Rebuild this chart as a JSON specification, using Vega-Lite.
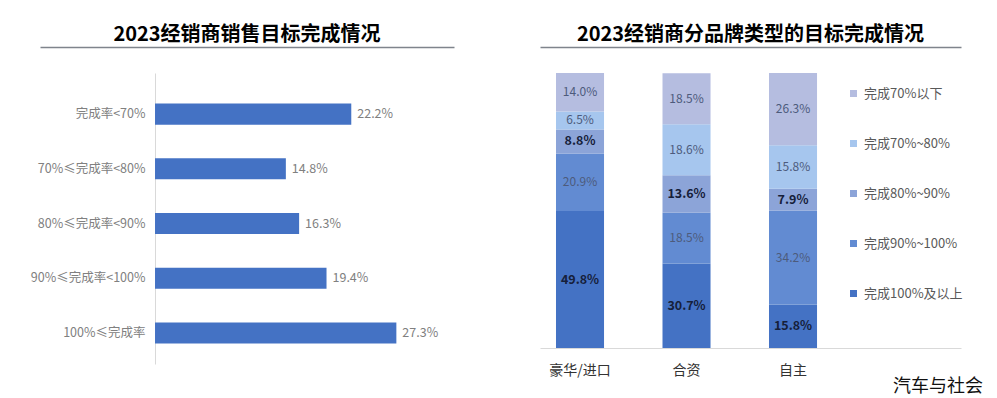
{
  "$schema": "https://vega.github.io/schema/vega-lite/v6.json",
  "padding": {"left": 30, "top": 25, "right": 10, "bottom": 2},
  "background": "white",
  "config": {
    "view": {"stroke": null},
    "font": "Noto Sans CJK SC",
    "title": {"font": "Noto Sans CJK SC"},
    "axis": {"labelFont": "Noto Sans CJK SC", "grid": false},
    "legend": {"labelFont": "Noto Sans CJK SC"}
  },
  "title": {"text": "汽车与社会", "orient": "bottom", "anchor": "end", "fontSize": 18, "fontWeight": "normal", "color": "#111111", "dx": 20, "offset": 1},
  "spacing": 86,
  "hconcat": [
    {
      "width": 414,
      "height": 291,
      "title": {"text": "2023经销商销售目标完成情况", "fontSize": 20, "fontWeight": "bold", "color": "#000000", "anchor": "middle", "offset": 2},
      "data": {"values": [
        {"cat": "完成率<70%", "v": 0.222},
        {"cat": "70%≤完成率<80%", "v": 0.148},
        {"cat": "80%≤完成率<90%", "v": 0.163},
        {"cat": "90%≤完成率<100%", "v": 0.194},
        {"cat": "100%≤完成率", "v": 0.273}
      ]},
      "encoding": {
        "y": {"field": "cat", "type": "nominal", "sort": null,
              "scale": {"paddingInner": 0.616, "paddingOuter": 0.466, "align": 0.6},
              "axis": {"title": null, "offset": -115, "ticks": false, "labelPadding": 10, "labelFontSize": 12.5, "labelColor": "#808080", "domainColor": "#d9d9d9", "labelLimit": 200}},
        "x": {"field": "v", "type": "quantitative",
              "scale": {"domain": [-0.1301, 0.3382], "nice": false},
              "axis": {"orient": "top", "offset": 26, "labels": false, "ticks": false, "title": null, "domainColor": "#7f848c", "domainWidth": 1.5}}
      },
      "layer": [
        {"mark": {"type": "bar", "color": "#4472C4"}},
        {"mark": {"type": "text", "align": "left", "dx": 6, "fontSize": 12.5, "color": "#808080"},
         "encoding": {"text": {"field": "v", "type": "quantitative", "format": ".1%"}}}
      ]
    },
    {
      "width": 421,
      "height": 275,
      "title": {"text": "2023经销商分品牌类型的目标完成情况", "fontSize": 20, "fontWeight": "bold", "color": "#000000", "anchor": "middle", "offset": 2},
      "data": {"values": [
        {"brand": "豪华/进口", "level": "完成100%及以上", "rank": 1, "v": 0.498},
        {"brand": "豪华/进口", "level": "完成90%~100%", "rank": 2, "v": 0.209},
        {"brand": "豪华/进口", "level": "完成80%~90%", "rank": 3, "v": 0.088},
        {"brand": "豪华/进口", "level": "完成70%~80%", "rank": 4, "v": 0.065},
        {"brand": "豪华/进口", "level": "完成70%以下", "rank": 5, "v": 0.140},
        {"brand": "合资", "level": "完成100%及以上", "rank": 1, "v": 0.307},
        {"brand": "合资", "level": "完成90%~100%", "rank": 2, "v": 0.185},
        {"brand": "合资", "level": "完成80%~90%", "rank": 3, "v": 0.136},
        {"brand": "合资", "level": "完成70%~80%", "rank": 4, "v": 0.186},
        {"brand": "合资", "level": "完成70%以下", "rank": 5, "v": 0.185},
        {"brand": "自主", "level": "完成100%及以上", "rank": 1, "v": 0.158},
        {"brand": "自主", "level": "完成90%~100%", "rank": 2, "v": 0.342},
        {"brand": "自主", "level": "完成80%~90%", "rank": 3, "v": 0.079},
        {"brand": "自主", "level": "完成70%~80%", "rank": 4, "v": 0.158},
        {"brand": "自主", "level": "完成70%以下", "rank": 5, "v": 0.263}
      ]},
      "encoding": {
        "y": {"field": "v", "type": "quantitative", "stack": "zero", "scale": {"domain": [0, 1], "nice": false}, "axis": null},
        "order": {"field": "rank", "type": "quantitative"}
      },
      "layer": [
        {
          "mark": {"type": "bar"},
          "encoding": {
            "x": {"field": "brand", "type": "nominal", "sort": null,
                  "scale": {"paddingInner": 0.549, "paddingOuter": 0.751, "align": 0.1},
                  "axis": {"orient": "bottom", "title": null, "ticks": false, "labelAngle": 0, "labelPadding": 15, "labelFontSize": 14, "labelColor": "#333333", "domainColor": "#d9d9d9"}},
            "color": {"field": "level", "type": "nominal",
                      "scale": {"domain": ["完成70%以下", "完成70%~80%", "完成80%~90%", "完成90%~100%", "完成100%及以上"],
                                "range": ["#B5BDE0", "#A6C6EE", "#8CA4D8", "#628BD2", "#4472C4"]},
                      "legend": {"orient": "none", "legendX": 807, "legendY": 14, "title": null, "symbolType": "square", "symbolSize": 49, "symbolStrokeWidth": 0, "labelFontSize": 13, "labelColor": "#595959", "rowPadding": 36, "labelOffset": 4}}
          }
        },
        {
          "mark": {"type": "text", "fontSize": 12, "color": "#4d5b7c"},
          "encoding": {
            "x": {"field": "brand", "type": "nominal", "sort": null,
                  "axis": {"orient": "top", "offset": 26, "labels": false, "ticks": false, "title": null, "domainColor": "#7f848c", "domainWidth": 1.5}},
            "y": {"field": "v", "type": "quantitative", "stack": "zero", "bandPosition": 0.5},
            "detail": {"field": "level"},
            "text": {"condition": {"test": "datum.level !== '完成100%及以上' && datum.level !== '完成80%~90%'", "field": "v", "type": "quantitative", "format": ".1%"}, "value": ""}
          }
        },
        {
          "mark": {"type": "text", "fontSize": 12.5, "fontWeight": "bold", "color": "#16203a"},
          "encoding": {
            "x": {"field": "brand", "type": "nominal", "sort": null, "axis": null},
            "y": {"field": "v", "type": "quantitative", "stack": "zero", "bandPosition": 0.5},
            "detail": {"field": "level"},
            "text": {"condition": {"test": "datum.level === '完成100%及以上' || datum.level === '完成80%~90%'", "field": "v", "type": "quantitative", "format": ".1%"}, "value": ""}
          }
        }
      ],
      "resolve": {"axis": {"x": "independent"}}
    }
  ]
}
